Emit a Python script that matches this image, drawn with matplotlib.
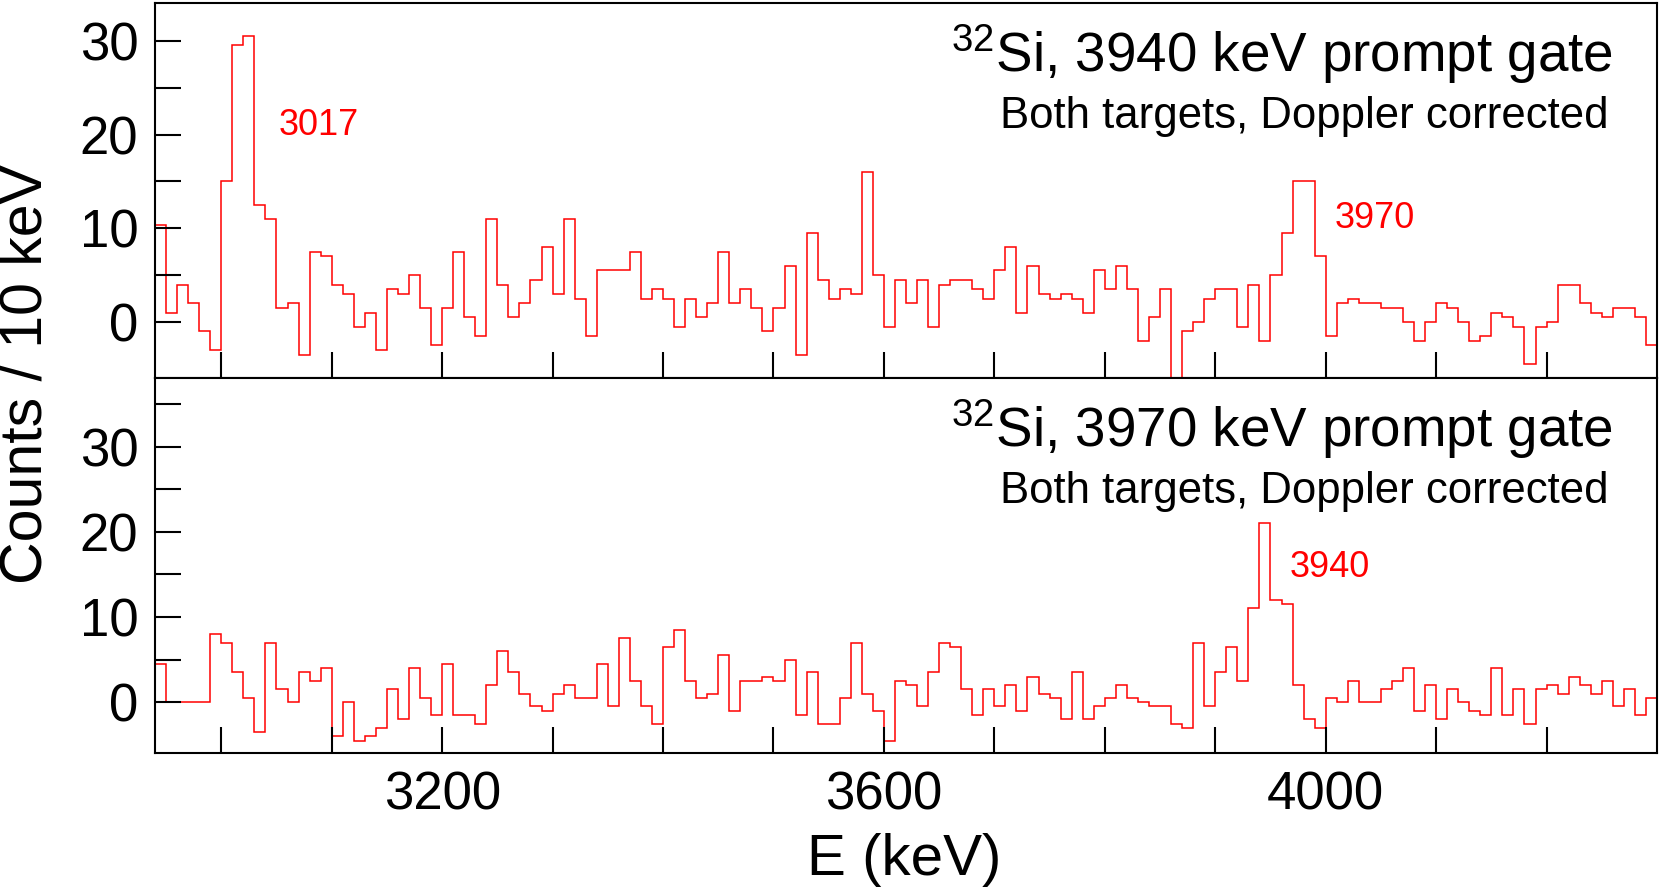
import numpy as np
import matplotlib
matplotlib.use('Agg')
import matplotlib.pyplot as plt

plt.rcParams['font.family'] = ['Liberation Sans', 'DejaVu Sans']
plt.rcParams['mathtext.fontset'] = 'custom'
plt.rcParams['mathtext.rm'] = 'Liberation Sans'

# histogram binning (keV)
e_low = 2940
bin_width = 10

# 3940 keV gate, counts per 10 keV bin starting at 2940 keV
counts_3940_gate = [
    10.4, 1, 4, 2, -1, -3, 15, 29.5, 30.5, 12.5,
    11, 1.5, 2, -3.5, 7.5, 7, 4, 3, -0.5, 1,
    -3, 3.5, 3, 5, 1.5, -2.5, 1.5, 7.5, 0.5, -1.5,
    11, 4, 0.5, 2, 4.5, 8, 3, 11, 2.5, -1.5,
    5.5, 5.5, 5.5, 7.5, 2.5, 3.5, 2.5, -0.5, 2.5, 0.5,
    2, 7.5, 2, 3.5, 1.5, -1, 1.5, 6, -3.5, 9.5,
    4.5, 2.5, 3.5, 3, 16, 5, -0.5, 4.5, 2, 4.5,
    -0.5, 4, 4.5, 4.5, 3.5, 2.5, 5.5, 8, 1, 6,
    3, 2.5, 3, 2.5, 1, 5.5, 3.5, 6, 3.5, -2,
    0.5, 3.5, -10, -1, 0, 2.5, 3.5, 3.5, -0.5, 4,
    -2, 5, 9.5, 15, 15, 7, -1.5, 2, 2.5, 2,
    2, 1.5, 1.5, 0, -2, 0, 2, 1.5, 0, -2,
    -1.5, 1, 0.5, -0.5, -4.5, -0.5, 0, 4, 4, 2,
    1, 0.5, 1.5, 1.5, 0.5, -2.5,
]

# 3970 keV gate
counts_3970_gate = [
    4.5, 0, 0, 0, 0, 8, 7, 3.5, 0.5, -3.5,
    7, 1.5, 0, 3.5, 2.5, 4, -4, 0, -4.5, -4,
    -3, 1.5, -2, 4, 0.5, -1.5, 4.5, -1.5, -1.5, -2.5,
    2, 6, 3.5, 1, -0.5, -1, 1, 2, 0.5, 0.5,
    4.5, -0.5, 7.5, 2.5, -0.5, -2.5, 6.5, 8.5, 2.5, 0.5,
    1, 5.5, -1, 2.5, 2.5, 3, 2.5, 5, -1.5, 3.5,
    -2.5, -2.5, 0.5, 7, 1, -1, -4.5, 2.5, 2, -0.5,
    3.5, 7, 6.5, 1.5, -1.5, 1.5, -0.5, 2, -1, 3,
    1, 0.5, -2, 3.5, -2, -0.5, 0.5, 2, 0.5, 0,
    -0.5, -0.5, -2.5, -3, 7, -0.5, 3.5, 6.5, 2.5, 11,
    21, 12, 11.5, 2, -2, -3, 0.5, 0, 2.5, 0,
    0, 1.5, 2.5, 4, -1, 2, -2, 1.5, 0, -1,
    -1.5, 4, -1.5, 1.5, -2.5, 1.5, 2, 1, 3, 2,
    1, 2.5, -0.5, 1.5, -1.5, 0.5,
]

gate_titles = [r'$\mathregular{^{32}}$Si, 3940 keV prompt gate',
               r'$\mathregular{^{32}}$Si, 3970 keV prompt gate']
subtitle = 'Both targets, Doppler corrected'

# peak labels: (energy, counts) where the label sits, and the text
peak_labels_top = [(3052, 20.0, '3017'), (4008, 10.0, '3970')]
peak_labels_bot = [(3967, 14.7, '3940')]

edges = e_low + bin_width * np.arange(len(counts_3940_gate) + 1)

fig = plt.figure(figsize=(16.61, 8.89), dpi=100)
ax_top = fig.add_axes([0.0933, 0.5745, 0.9043, 0.4218])
ax_bot = fig.add_axes([0.0933, 0.1526, 0.9043, 0.4218])

panels = [
    (ax_top, counts_3940_gate, (-6, 34), np.arange(0, 31, 5), peak_labels_top, gate_titles[0]),
    (ax_bot, counts_3970_gate, (-6, 38), np.arange(0, 36, 5), peak_labels_bot, gate_titles[1]),
]

xticks = np.arange(3000, 4201, 100)
for ax, vals, ylim, yticks, labels, title in panels:
    ax.stairs(vals, edges, color='red', lw=1.1, baseline=None)
    ax.set_xlim(e_low, 4300)
    ax.set_ylim(*ylim)
    ax.set_xticks(xticks)
    ax.set_yticks(yticks)
    ax.set_yticklabels([str(t) if t % 10 == 0 else '' for t in yticks])
    if ax is ax_bot:
        ax.set_xticklabels([str(t) if t in (3200, 3600, 4000) else '' for t in xticks])
    else:
        ax.set_xticklabels([])
    ax.tick_params(direction='in', length=19, width=1.5, labelsize=38, pad=12)
    for s in ax.spines.values():
        s.set_linewidth(1.5)
    for x, y, txt in labels:
        ax.text(x, y, txt, color='red', fontsize=26, ha='left', va='baseline')
    ax.text(0.9707, 0.8176, title, transform=ax.transAxes, ha='right',
            va='baseline', fontsize=39.4)
    ax.text(0.968, 0.668, subtitle, transform=ax.transAxes, ha='right',
            va='baseline', fontsize=31.5)

fig.text(26 / 1661, 0.579, 'Counts / 10 keV', rotation=90, ha='center',
         va='center', fontsize=42.5)
fig.text(904 / 1661, 1 - 875 / 889, 'E (keV)', ha='center', va='baseline',
         fontsize=42)

fig.savefig('out.png', dpi=100)
